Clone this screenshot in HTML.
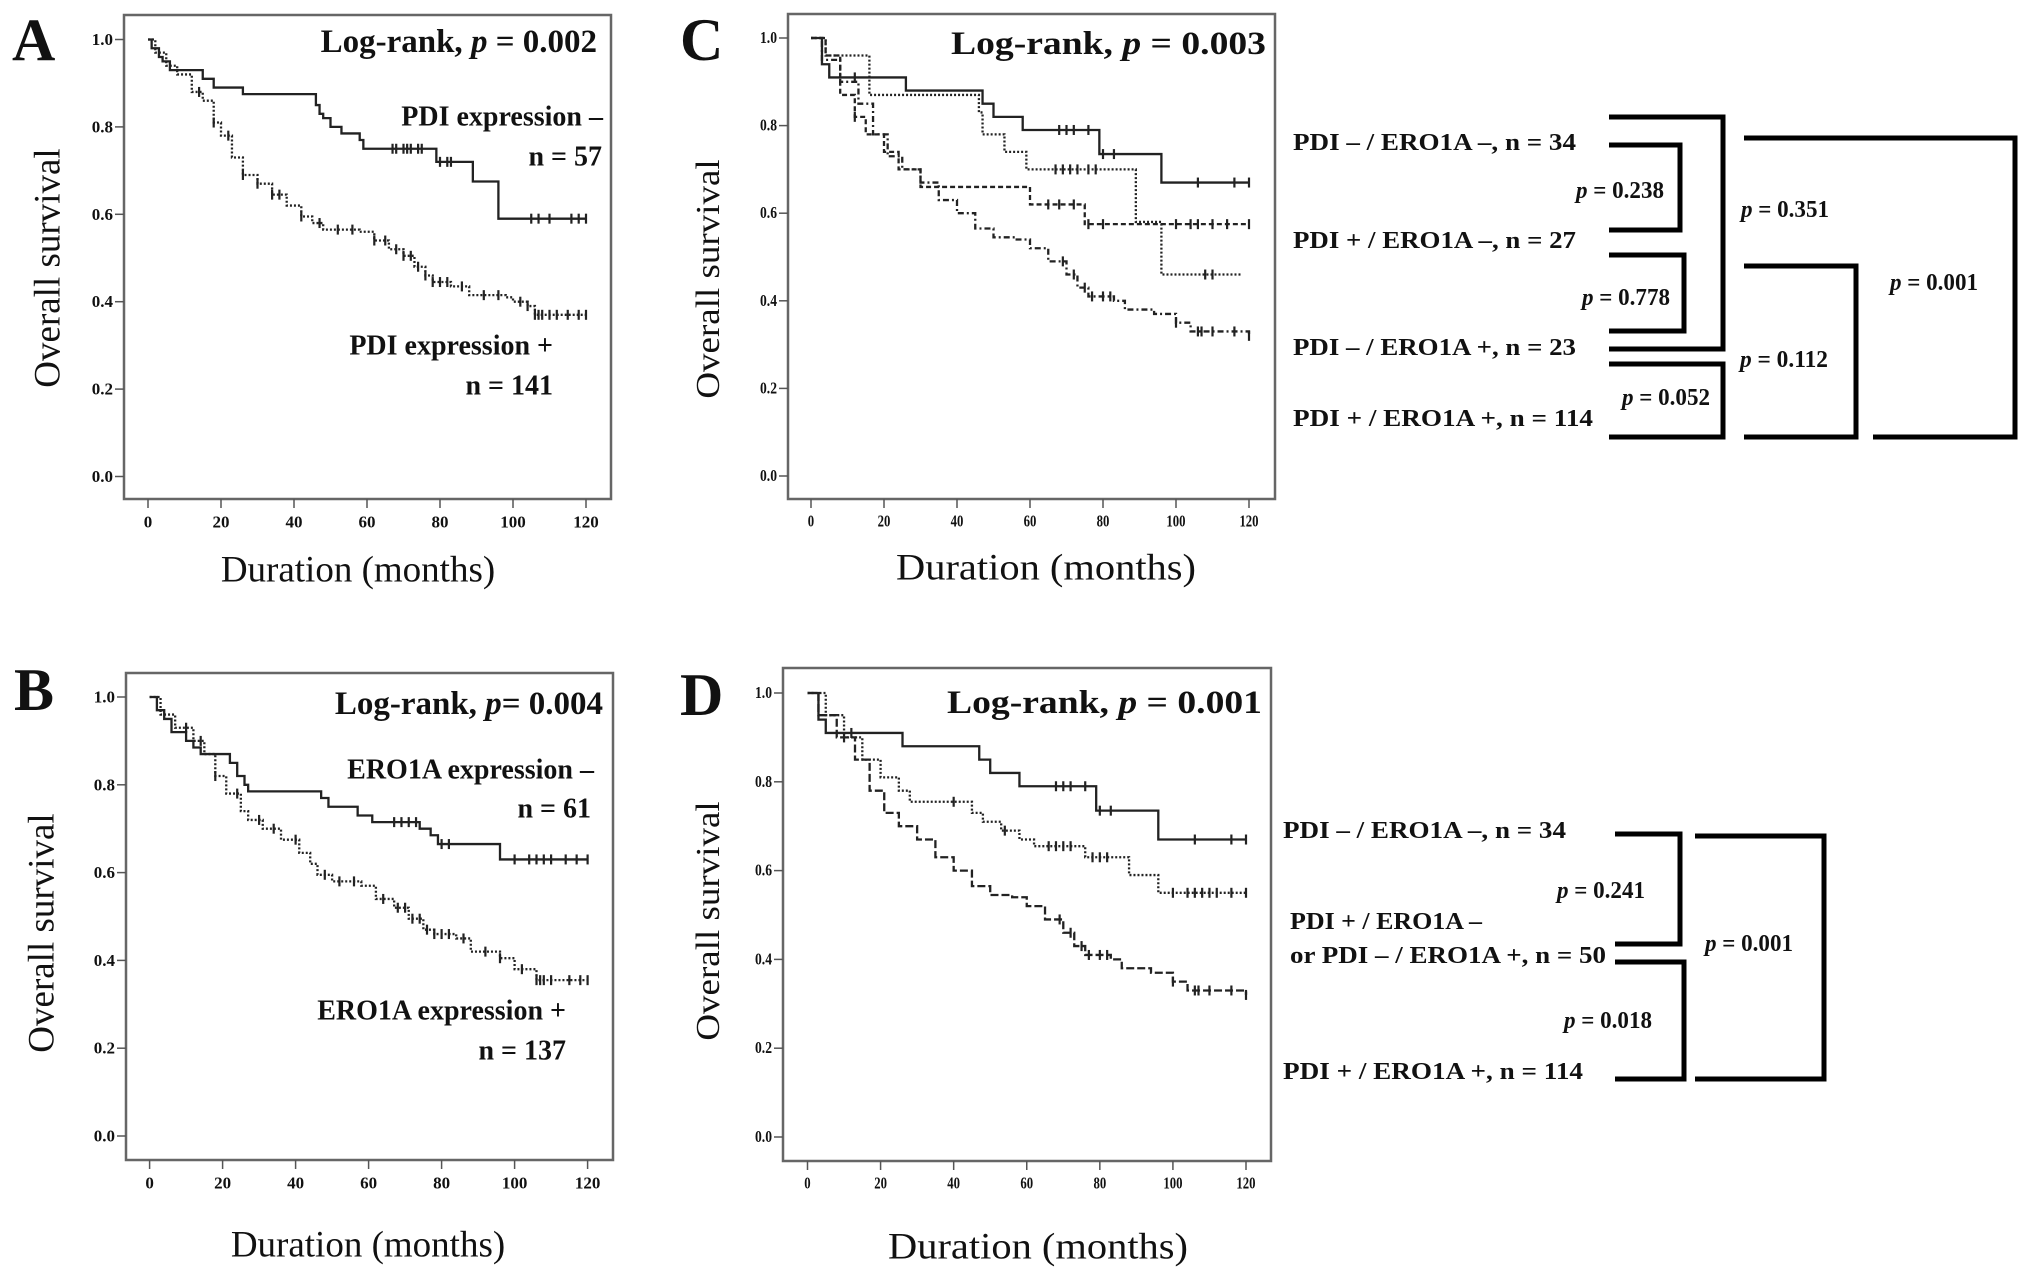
<!DOCTYPE html>
<html><head><meta charset="utf-8"><style>
html,body{margin:0;padding:0;background:#fff;}
svg{display:block;font-family:"Liberation Serif",serif;}
</style></head><body>
<svg id="fig" width="2031" height="1279" viewBox="0 0 2031 1279">
</svg>
<script>
// ---- data (time in months, survival proportion) ----
const xTicks=[0,20,40,60,80,100,120];
const yTicks=[0.0,0.2,0.4,0.6,0.8,1.0];
const yTickLabels=["0.0","0.2","0.4","0.6","0.8","1.0"];
const xTickLabels=["0","20","40","60","80","100","120"];

const aNegT=[0,1,3,4,6,15,18,26,45,46,47,48,50,53,58,59,79,89,96,120];
const aNegS=[1,0.98,0.96,0.95,0.93,0.91,0.89,0.875,0.875,0.85,0.83,0.82,0.80,0.785,0.77,0.75,0.72,0.675,0.59,0.59];
const aNegC=[67,68,70,71,72,74,75,80,82,83,105,107,110,116,118,120];
const aPosT=[0,2,5,8,12,15,18,20,23,26,30,34,38,42,45,48,58,62,66,70,73,76,78,83,88,98,100,104,106,120];
const aPosS=[1,0.97,0.94,0.92,0.88,0.86,0.81,0.78,0.73,0.69,0.67,0.645,0.62,0.595,0.58,0.565,0.56,0.54,0.52,0.505,0.48,0.46,0.445,0.435,0.415,0.41,0.40,0.39,0.37,0.37];
const aPosC=[14,18,22,26,30,34,36,42,47,52,56,62,65,68,70,72,74,76,78,80,82,86,92,96,102,104,106,107,108,110,112,115,118,120];

const bNegT=[0,2,4,6,10,12,14,22,24,26,27,47,49,57,61,74,77,79,96,120];
const bNegS=[1,0.97,0.95,0.92,0.90,0.885,0.87,0.85,0.82,0.80,0.785,0.77,0.75,0.73,0.715,0.70,0.685,0.665,0.63,0.63];
const bNegC=[67,69,71,73,80,82,100,104,106,108,110,114,117,120];
const bPosT=[0,3,7,12,15,18,21,25,27,31,36,41,44,46,50,58,62,67,71,75,78,84,88,96,100,106,120];
const bPosS=[1,0.96,0.93,0.90,0.87,0.82,0.78,0.74,0.72,0.70,0.675,0.645,0.62,0.595,0.58,0.57,0.54,0.52,0.495,0.47,0.46,0.45,0.42,0.405,0.38,0.355,0.355];
const bPosC=[10,14,18,24,30,34,40,48,52,56,64,68,70,72,74,76,78,80,82,86,92,96,102,106,107,108,110,115,118,120];

const c1T=[0,3,5,26,47,50,58,79,96,120];
const c1S=[1,0.94,0.91,0.88,0.85,0.82,0.79,0.735,0.67,0.67];
const c1C=[12,68,70,72,76,80,83,106,116,120];
const c2T=[0,4,16,46,47,53,59,89,96,118];
const c2S=[1,0.96,0.87,0.83,0.78,0.74,0.70,0.58,0.46,0.46];
const c2C=[67,69,71,73,76,78,108,110];
const c3T=[0,4,8,12,15,20,24,30,60,75,120];
const c3S=[1,0.96,0.87,0.82,0.78,0.74,0.70,0.66,0.62,0.575,0.575];
const c3C=[12,65,68,72,76,80,100,104,106,110,114,120];
const c4T=[0,3,8,13,17,21,25,30,35,40,45,50,56,60,65,70,73,76,83,86,94,100,104,120];
const c4S=[1,0.95,0.90,0.85,0.78,0.73,0.70,0.67,0.63,0.60,0.565,0.545,0.54,0.52,0.49,0.46,0.43,0.41,0.40,0.38,0.37,0.35,0.33,0.32];
const c4C=[69,72,75,77,80,82,100,106,107,110,116,120];

const d2T=[0,5,10,15,20,25,28,45,48,53,58,62,76,88,96,120];
const d2S=[1,0.95,0.90,0.85,0.81,0.78,0.755,0.73,0.71,0.69,0.67,0.655,0.63,0.59,0.55,0.55];
const d2C=[10,40,54,66,68,70,72,78,80,82,100,104,106,108,110,112,116,120];

const NS="http://www.w3.org/2000/svg";
const svg=document.getElementById('fig');
function mk(tag,attrs,parent){const e=document.createElementNS(NS,tag);for(const k in attrs)e.setAttribute(k,attrs[k]);(parent||svg).appendChild(e);return e;}
function txt(s,x,y,size,anchor,parent,extra){const t=mk('text',Object.assign({x:x,y:y,'font-size':size,'font-weight':'bold','text-anchor':anchor||'start','dominant-baseline':'central',fill:'#111'},extra||{}),parent);t.textContent=s;return t;}

function panel(cfg){
  const g=mk('g',{});
  
  
  const sx=v=>cfg.x0+(cfg.x120-cfg.x0)*v/120;
  const sy=v=>cfg.y0+(cfg.y1-cfg.y0)*v;
  const box=mk('rect',{x:cfg.box[0],y:cfg.box[1],width:cfg.box[2]-cfg.box[0],height:cfg.box[3]-cfg.box[1],fill:'none',stroke:'#666','stroke-width':2.5},g);
  
  
  yTicks.forEach((v,i)=>{
    mk('line',{x1:cfg.box[0]-9,x2:cfg.box[0],y1:sy(v),y2:sy(v),stroke:'#555','stroke-width':1.5},g);
    const t=txt(yTickLabels[i],cfg.box[0]-11,sy(v),17,'end',g,cfg.cond?{transform:`translate(${cfg.box[0]-11},0) scale(0.8,1) translate(${-(cfg.box[0]-11)},0)`}:{});
    
    
  });
  xTicks.forEach((v,i)=>{
    mk('line',{x1:sx(v),x2:sx(v),y1:cfg.box[3],y2:cfg.box[3]+9,stroke:'#555','stroke-width':1.5},g);
    const t=txt(xTickLabels[i],sx(v),cfg.box[3]+23,17,'middle',g,cfg.cond?{transform:`translate(${sx(v)},0) scale(0.75,1) translate(${-sx(v)},0)`}:{});
    
    
  });
  cfg.series.forEach(s=>{
    let d=`M${sx(s.t[0])},${sy(s.s[0])}`;
    for(let i=1;i<s.t.length;i++){d+=`H${sx(s.t[i])}V${sy(s.s[i])}`;}
    const p=mk('path',{d:d,fill:'none',stroke:'#222','stroke-width':2.3,'stroke-dasharray':s.dash||'none'},g);
    
    
    s.c.forEach(ct=>{
      let idx=0;for(let i=0;i<s.t.length;i++){if(s.t[i]<=ct)idx=i;}
      const m=mk('line',{x1:sx(ct),x2:sx(ct),y1:sy(s.s[idx])-5,y2:sy(s.s[idx])+5,stroke:'#222','stroke-width':2.2},g);
      
      
    });
  });
  const L=txt(cfg.letter,cfg.lx,cfg.ly,60,'start',g);
  
  
  const lr=mk('text',{x:cfg.lrx,y:cfg.lry,'font-size':33,'font-weight':'bold','text-anchor':'end','dominant-baseline':'central',fill:'#111'},g);
  
  
  if(cfg.cond){lr.setAttribute('textLength',cfg.lrx-cfg.lrl);lr.setAttribute('lengthAdjust','spacingAndGlyphs');}
  lr.innerHTML=cfg.lrPre+'<tspan font-style="italic">p</tspan>'+cfg.lrPost;
  const yt=txt('Overall survival',0,0,37,'middle',g,{'font-weight':'normal',transform:`translate(${cfg.ytx},${cfg.yty}) rotate(-90)`});
  
  
  const xt=txt('Duration (months)',cfg.xtx,cfg.xty,37,'middle',g,{'font-weight':'normal'});
  
  
  if(cfg.cond){yt.setAttribute('transform',`translate(${cfg.ytx},${cfg.yty}) rotate(-90) scale(1,0.9)`);xt.setAttribute('textLength',300);xt.setAttribute('lengthAdjust','spacingAndGlyphs');}
  (cfg.notes||[]).forEach(n=>{const t=txt(n[0],n[1],n[2],28,'end',g);});
}

panel({name:'panel-a',letter:'A',lx:12,ly:40,box:[124,15,611,499],x0:148,x120:586,y1:39.5,y0:476.5,
 lrx:597,lry:42,lrPre:'Log-rank, ',lrPost:' = 0.002',ytx:48,yty:268,xtx:358,xty:570,
 notes:[['PDI expression –',603,117],['n = 57',602,157],['PDI expression +',553,346],['n = 141',553,386]],
 series:[{name:'pdi-negative-curve',t:aNegT,s:aNegS,c:aNegC},{name:'pdi-positive-curve',t:aPosT,s:aPosS,c:aPosC,dash:'2 2'}]});
panel({name:'panel-b',letter:'B',lx:14,ly:690,box:[126,673,613,1160],x0:149.6,x120:587.6,y1:697,y0:1136,
 lrx:603,lry:704,lrPre:'Log-rank,  ',lrPost:'= 0.004',ytx:42,yty:933,xtx:368,xty:1245,
 notes:[['ERO1A expression –',594,770],['n = 61',591,809],['ERO1A expression +',566,1011],['n = 137',566,1051]],
 series:[{name:'ero1a-negative-curve',t:bNegT,s:bNegS,c:bNegC},{name:'ero1a-positive-curve',t:bPosT,s:bPosS,c:bPosC,dash:'2 2'}]});
panel({name:'panel-c',letter:'C',lx:680,ly:40,cond:true,box:[788,14,1275,499],x0:811,x120:1249,y1:38,y0:476,
 lrx:1266,lrl:951,lry:44,lrPre:'Log-rank, ',lrPost:' = 0.003',ytx:708,yty:279,xtx:1046,xty:568,
 series:[{name:'c-pdi-neg-ero-neg',t:c1T,s:c1S,c:c1C},{name:'c-pdi-pos-ero-neg',t:c2T,s:c2S,c:c2C,dash:'2 2'},
 {name:'c-pdi-neg-ero-pos',t:c3T,s:c3S,c:c3C,dash:'5 3'},{name:'c-pdi-pos-ero-pos',t:c4T,s:c4S,c:c4C,dash:'6 3 2 3'}]});
panel({name:'panel-d',letter:'D',lx:680,ly:695,cond:true,box:[783,668,1271,1161],x0:807.5,x120:1246,y1:693,y0:1137,
 lrx:1262,lrl:947,lry:703,lrPre:'Log-rank, ',lrPost:' = 0.001',ytx:708,yty:921,xtx:1038,xty:1247,
 series:[{name:'d-pdi-neg-ero-neg',t:c1T,s:c1S,c:c1C},{name:'d-mixed-curve',t:d2T,s:d2S,c:d2C,dash:'2 2'},{name:'d-pdi-pos-ero-pos',t:c4T,s:c4S,c:c4C,dash:'8 3'}]});

// ---- bracket annotations ----
function lab(s,x,y,w,anchor,name){
  const t=mk('text',{x:x,y:y,'font-size':24,'font-weight':'bold','text-anchor':anchor,'dominant-baseline':'central',fill:'#111',textLength:w,lengthAdjust:'spacingAndGlyphs'});
  
  
  t.innerHTML=s;
}
function pl(s,x,y,anchor){lab('<tspan font-style="italic">p</tspan> = '+s,x,y,88,anchor,'p-value-label');}
function br(x1,x2,ya,yb,name,x1b){
  const p=mk('path',{d:`M${x1},${ya}H${x2}V${yb}H${x1b===undefined?x1:x1b}`,fill:'none',stroke:'#000','stroke-width':5});
  
  
}
lab('PDI – / ERO1A –, n = 34',1293,143,283,'start','group-label');
lab('PDI + / ERO1A –, n = 27',1293,241,283,'start','group-label');
lab('PDI – / ERO1A +, n = 23',1293,348,283,'start','group-label');
lab('PDI + / ERO1A +, n = 114',1293,419,300,'start','group-label');
br(1609,1680,145,230,'bracket-c-1');
br(1609,1684,255,331,'bracket-c-2');
br(1609,1723,117,349,'bracket-c-3');
br(1609,1723,364,437,'bracket-c-4');
br(1744,1856,266,437,'bracket-c-5');
br(1744,2015,138,437,'bracket-c-6',1873);
pl('0.238',1664,191,'end');
pl('0.778',1670,298,'end');
pl('0.351',1741,210,'start');
pl('0.052',1710,398,'end');
pl('0.112',1740,360,'start');
pl('0.001',1890,283,'start');

lab('PDI – / ERO1A –, n = 34',1283,831,283,'start','group-label');
lab('PDI + / ERO1A –',1290,922,192,'start','group-label');
lab('or PDI – / ERO1A +, n = 50',1290,956,316,'start','group-label');
lab('PDI + / ERO1A +, n = 114',1283,1072,300,'start','group-label');
br(1615,1680,834,944,'bracket-d-1');
br(1615,1684,962,1079,'bracket-d-2');
br(1695,1824,836,1079,'bracket-d-3');
pl('0.241',1645,891,'end');
pl('0.018',1652,1021,'end');
pl('0.001',1705,944,'start');
</script>
</body></html>
